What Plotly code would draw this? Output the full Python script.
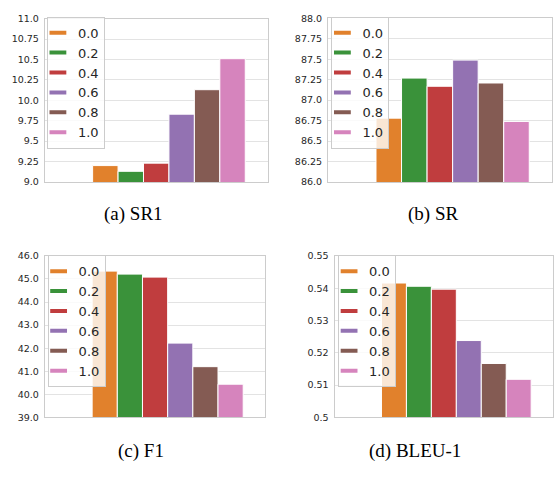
import plotly.graph_objects as go

# ---- data ----
hue_levels = ["0.0", "0.2", "0.4", "0.6", "0.8", "1.0"]
colors = ["#e1812c", "#3a923a", "#c03d3e", "#9372b2", "#845b53", "#d684bd"]
placeholder_color = "#3274a1"

sr1_values = [9.20, 9.13, 9.23, 9.83, 10.13, 10.51]
sr_values = [86.78, 87.27, 87.17, 87.49, 87.21, 86.74]
f1_values = [45.34, 45.21, 45.08, 42.22, 41.20, 40.44]
bleu1_values = [0.5416, 0.5406, 0.5397, 0.5238, 0.5167, 0.5118]

sr1_ticks = [9.0, 9.25, 9.5, 9.75, 10.0, 10.25, 10.5, 10.75, 11.0]
sr1_ticktext = ["9.0", "9.25", "9.5", "9.75", "10.0", "10.25", "10.5", "10.75", "11.0"]
sr_ticks = [86.0, 86.25, 86.5, 86.75, 87.0, 87.25, 87.5, 87.75, 88.0]
sr_ticktext = ["86.0", "86.25", "86.5", "86.75", "87.0", "87.25", "87.5", "87.75", "88.0"]
f1_ticks = [39.0, 40.0, 41.0, 42.0, 43.0, 44.0, 45.0, 46.0]
f1_ticktext = ["39.0", "40.0", "41.0", "42.0", "43.0", "44.0", "45.0", "46.0"]
bleu1_ticks = [0.50, 0.51, 0.52, 0.53, 0.54, 0.55]
bleu1_ticktext = ["0.5", "0.51", "0.52", "0.53", "0.54", "0.55"]

captions = ["(a) SR1", "(b) SR", "(c) F1", "(d) BLEU-1"]

# ---- layout geometry (pixels in a 554x484 canvas) ----
W, H = 554, 484
panels = [
    # values, ticks, ticktext, x0, x1, ytop, ybottom, legend left, legend top, caption x, caption y
    (sr1_values, sr1_ticks, sr1_ticktext, 45.0, 268.0, 13.0, 180.0, 47.0, 11.0, 134, 213),
    (sr_values, sr_ticks, sr_ticktext, 328.7, 552.6, 12.7, 180.0, 332.0, 11.0, 434, 213),
    (f1_values, f1_ticks, f1_ticktext, 45.0, 265.7, 255.7, 421.0, 47.7, 255.0, 141, 455),
    (bleu1_values, bleu1_ticks, bleu1_ticktext, 335.3, 554.0, 255.7, 421.0, 338.7, 255.0, 416, 455),
]

fig = go.Figure()
tick_font = dict(family="DejaVu Sans", size=9.5, color="#262626")
frame_color = "#cccccc"
grid_color = "#e3e3e3"

annotations = []
for i, (vals, tv, tt, x0, x1, yt, yb, lx, ly, cx, cy) in enumerate(panels):
    n = i + 1
    xa = "x" if n == 1 else f"x{n}"
    ya = "y" if n == 1 else f"y{n}"
    lg = "legend" if n == 1 else f"legend{n}"
    # empty first hue slot (no visible bar)
    fig.add_trace(go.Bar(x=[""], y=[None], marker_color=placeholder_color,
                         showlegend=False, xaxis=xa, yaxis=ya, hoverinfo="skip"))
    for name, v, c in zip(hue_levels, vals, colors):
        fig.add_trace(go.Bar(x=[""], y=[v], name=name, marker_color=c,
                             marker_line=dict(color="white", width=1),
                             showlegend=False, xaxis=xa, yaxis=ya))
    for name, c in zip(hue_levels, colors):
        fig.add_trace(go.Scatter(x=[None], y=[None], mode="markers", name=name,
                                 marker=dict(symbol="line-ew", size=12,
                                             line=dict(color=c, width=4)),
                                 legend=lg, xaxis=xa, yaxis=ya))
    xkey = "xaxis" if n == 1 else f"xaxis{n}"
    ykey = "yaxis" if n == 1 else f"yaxis{n}"
    fig.update_layout(**{
        xkey: dict(domain=[x0 / W, x1 / W], anchor=ya, type="category",
                   range=[-0.5, 0.5], showticklabels=False, showgrid=False,
                   showline=True, mirror=True, linecolor=frame_color, linewidth=1.3,
                   ticks="", zeroline=False, fixedrange=True),
        ykey: dict(domain=[1 - yb / H, 1 - yt / H], anchor=xa,
                   range=[tv[0], tv[-1]], tickvals=tv, ticktext=tt,
                   tickfont=tick_font, showgrid=True, gridcolor=grid_color,
                   gridwidth=1, showline=True, mirror=True, linecolor=frame_color,
                   linewidth=1.3, ticks="", zeroline=False, ticklabelstandoff=3),
        lg: dict(x=lx / W, y=1 - ly / H, xanchor="left", yanchor="top",
                 xref="paper", yref="paper",
                 bgcolor="rgba(255,255,255,0.8)", bordercolor=frame_color,
                 borderwidth=1, font=dict(family="DejaVu Sans", size=13, color="#262626"),
                 itemwidth=30, tracegroupgap=0, indentation=-10),
    })
    annotations.append(dict(text=captions[i], x=cx / W, y=1 - cy / H,
                            xref="paper", yref="paper", showarrow=False,
                            xanchor="center", yanchor="middle",
                            font=dict(family="Liberation Serif", size=19, color="black")))

fig.update_layout(width=W, height=H, margin=dict(l=0, r=0, t=0, b=0),
                  autosize=False, barmode="group", bargap=0.2, bargroupgap=0,
                  plot_bgcolor="white", paper_bgcolor="white",
                  annotations=annotations)

fig.write_html("out.html", config={"displayModeBar": False},
               post_script="document.body.style.margin='0px';document.body.style.overflow='hidden';")
